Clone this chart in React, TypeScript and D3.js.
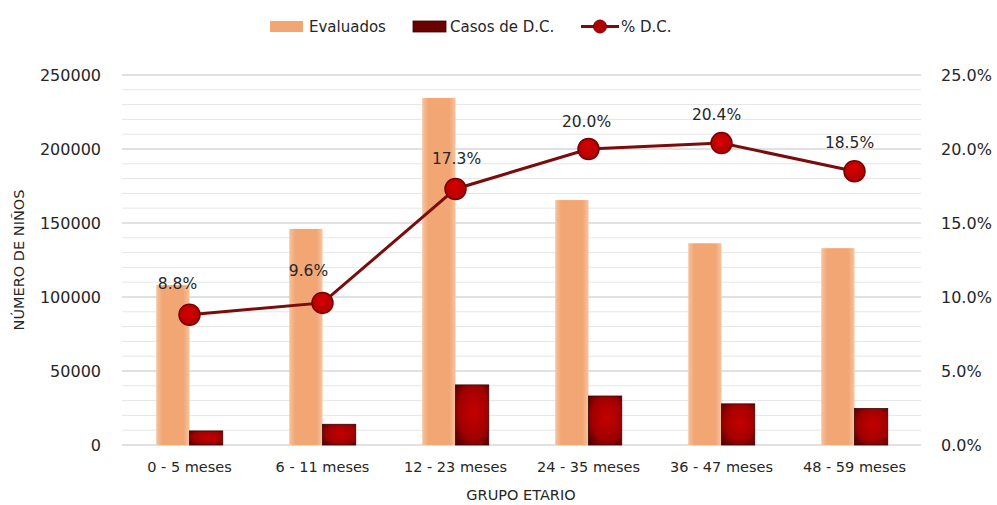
import React from "react";
import * as d3 from "d3";

// Age groups and series
const categories = ["0 - 5 meses", "6 - 11 meses", "12 - 23 meses", "24 - 35 meses", "36 - 47 meses", "48 - 59 meses"];
const evaluados = [108000, 146000, 234500, 165500, 136300, 133000];
const casos = [9500, 14000, 40600, 33100, 27800, 24600];
const pctDC = [0.088, 0.096, 0.173, 0.2, 0.204, 0.185];
const leftTicks = [0, 50000, 100000, 150000, 200000, 250000];
const rightTicks = [0, 0.05, 0.1, 0.15, 0.2, 0.25];

// Small per-label nudges for the percentage annotations
const labelNudge: [number, number][] = [[-12, -31], [-14, -32], [1, -30], [-2, -27], [-5, -29], [-5, -29]];

const W = 997;
const H = 505;
const FONT = "DejaVu Sans, sans-serif";
const TEXT = "#262626";

export default function App() {
  const x = d3.scaleBand<string>().domain(categories).range([123, 921]).paddingInner(0.5).paddingOuter(0.25);
  const sub = d3.scaleBand<string>().domain(["ev", "dc"]).range([0, x.bandwidth()]);
  const y = d3.scaleLinear().domain([0, 250000]).range([445, 75]);
  const yR = d3.scaleLinear().domain([0, 0.25]).range([445, 75]);
  const cx = (c: string) => (x(c) as number) + x.bandwidth() / 2;

  const minor = d3.range(0, 250001, 10000).filter((v) => v % 50000 !== 0);
  const line = d3
    .line<number>()
    .x((_, i) => cx(categories[i]))
    .y((d) => yR(d))
    .curve(d3.curveLinear);

  const pctFmt = d3.format(".1%");

  return (
    <svg width={W} height={H} style={{ position: "absolute", left: 0, top: 0, background: "#fff" }} fontFamily={FONT}>
      <defs>
        <linearGradient id="evGrad" x1="0" x2="1" y1="0" y2="0">
          <stop offset="0%" stopColor="#f7c4a0" />
          <stop offset="18%" stopColor="#f1a674" />
          <stop offset="82%" stopColor="#f1a674" />
          <stop offset="100%" stopColor="#f7c4a0" />
        </linearGradient>
        <radialGradient id="dcGrad" cx="0.55" cy="0.45" r="0.75">
          <stop offset="0%" stopColor="#c60000" />
          <stop offset="60%" stopColor="#a00000" />
          <stop offset="100%" stopColor="#4a0000" />
        </radialGradient>
        <radialGradient id="dotGrad" cx="0.45" cy="0.4" r="0.7">
          <stop offset="0%" stopColor="#d80000" />
          <stop offset="100%" stopColor="#a80000" />
        </radialGradient>
      </defs>

      {/* grid */}
      {minor.map((v) => (
        <line key={"m" + v} x1={122} x2={921} y1={y(v)} y2={y(v)} stroke="#e6e6e6" strokeWidth={1} />
      ))}
      {leftTicks.map((v) => (
        <line key={"g" + v} x1={122} x2={921} y1={y(v)} y2={y(v)} stroke="#c4c4c4" strokeWidth={1.2} />
      ))}

      {/* left axis labels */}
      {leftTicks.map((v) => (
        <text key={"l" + v} x={101} y={y(v)} dy="0.36em" textAnchor="end" fontSize={16} fill={TEXT}>
          {v}
        </text>
      ))}
      {/* right axis labels */}
      {rightTicks.map((v) => (
        <text key={"r" + v} x={941} y={yR(v)} dy="0.36em" textAnchor="start" fontSize={16} fill={TEXT}>
          {pctFmt(v)}
        </text>
      ))}

      {/* bars */}
      {categories.map((c, i) => (
        <g key={c} transform={`translate(${x(c)},0)`}>
          <rect
            x={sub("ev")}
            y={y(evaluados[i])}
            width={sub.bandwidth()}
            height={y(0) - y(evaluados[i])}
            fill="url(#evGrad)"
          />
          <rect
            x={sub("dc")}
            y={y(casos[i])}
            width={sub.bandwidth()}
            height={y(0) - y(casos[i])}
            fill="url(#dcGrad)"
            stroke="#3a0000"
            strokeWidth={0.8}
          />
        </g>
      ))}

      {/* category labels */}
      {categories.map((c) => (
        <text key={"c" + c} x={cx(c)} y={467} dy="0.35em" textAnchor="middle" fontSize={14.5} fill={TEXT}>
          {c}
        </text>
      ))}

      {/* axis titles */}
      <text x={521} y={495} dy="0.35em" textAnchor="middle" fontSize={14.5} fill={TEXT}>
        GRUPO ETARIO
      </text>
      <text transform="translate(19,260) rotate(-90)" dy="0.35em" textAnchor="middle" fontSize={14.5} fill={TEXT}>
        NÚMERO DE NIÑOS
      </text>

      {/* % line */}
      <path d={line(pctDC) as string} fill="none" stroke="#7a0c0c" strokeWidth={3} />
      {pctDC.map((v, i) => (
        <circle key={"p" + i} cx={cx(categories[i])} cy={yR(v)} r={10.5} fill="url(#dotGrad)" stroke="#7a0000" strokeWidth={1.5} />
      ))}
      {pctDC.map((v, i) => (
        <text
          key={"t" + i}
          x={cx(categories[i]) + labelNudge[i][0]}
          y={yR(v) + labelNudge[i][1]}
          dy="0.35em"
          textAnchor="middle"
          fontSize={15.5}
          fill={TEXT}
        >
          {pctFmt(v)}
        </text>
      ))}

      {/* legend */}
      <g fontSize={15} fill={TEXT}>
        <rect x={270} y={21} width={33} height={11} fill="#f1a674" />
        <text x={309} y={26.5} dy="0.35em">Evaluados</text>
        <rect x={413} y={21} width={33} height={11} fill="#6a0000" stroke="#3a0000" strokeWidth={0.8} />
        <text x={450} y={26.5} dy="0.35em">Casos de D.C.</text>
        <line x1={581} x2={619} y1={26.5} y2={26.5} stroke="#7a0c0c" strokeWidth={3} />
        <circle cx={600} cy={26.5} r={6.5} fill="#b00000" stroke="#7a0000" strokeWidth={1} />
        <text x={621} y={26.5} dy="0.35em">% D.C.</text>
      </g>
    </svg>
  );
}
